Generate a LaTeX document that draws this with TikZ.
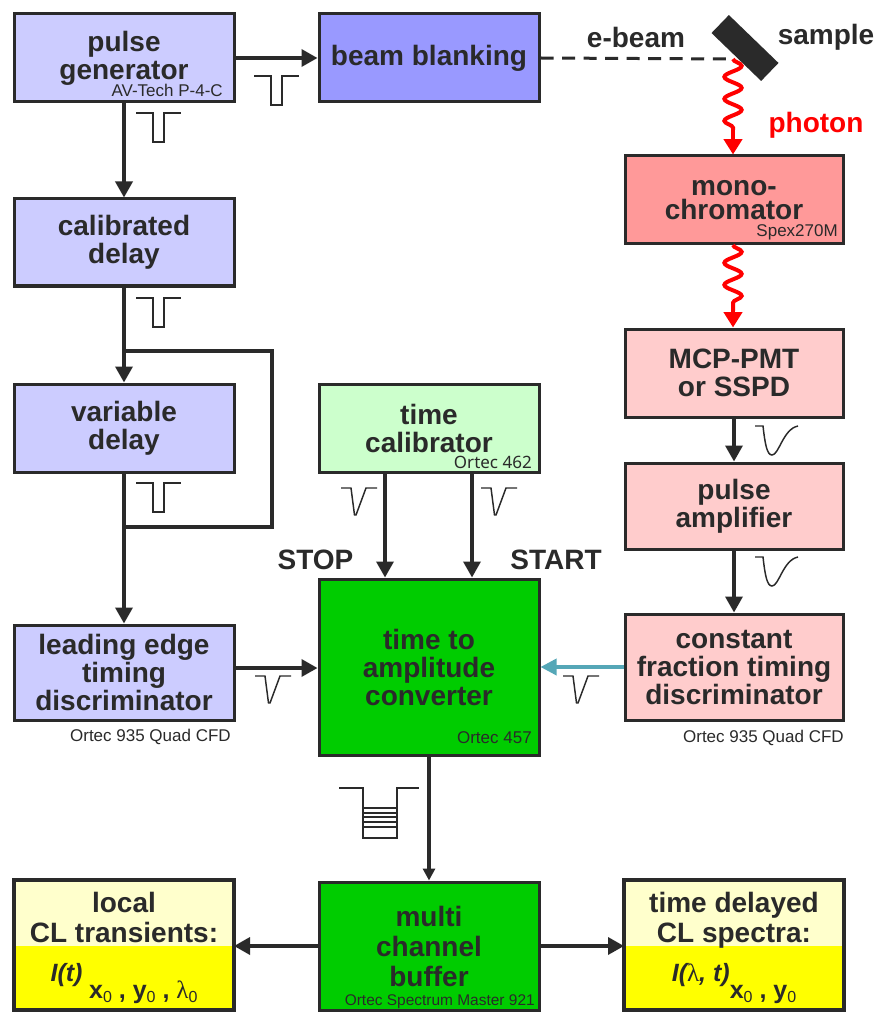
\documentclass[tikz,border=0pt]{standalone}
\usepackage{fontspec}
\setmainfont{Liberation Sans}
\newfontfamily\notosans{Noto Sans}
\newfontfamily\greekserif{Liberation Serif}
\usetikzlibrary{arrows.meta,decorations.pathmorphing,calc}
\definecolor{ink}{HTML}{2A2A2A}
\definecolor{lav}{HTML}{CCCCFF}
\definecolor{bbcol}{HTML}{9999FF}
\definecolor{monocol}{HTML}{FF9999}
\definecolor{pinkcol}{HTML}{FFCCCC}
\definecolor{tccol}{HTML}{CCFFCC}
\definecolor{tacgreen}{HTML}{00CC00}
\definecolor{lightyel}{HTML}{FFFFCC}
\definecolor{yel}{HTML}{FFFF00}
\definecolor{cyanarr}{HTML}{55A7B7}
\newcommand\mainfs{\fontsize{21pt}{21pt}\selectfont\bfseries}
\newcommand\monofs{\fontsize{21pt}{18.5pt}\selectfont\bfseries}
\newcommand\botfs{\fontsize{21pt}{22.5pt}\selectfont\bfseries}
\newcommand\smallfs{\fontsize{12.75pt}{14pt}\selectfont}
\newcommand\tinyfs{\fontsize{11.6pt}{13pt}\selectfont}
\newcommand\formfs{\fontsize{18.75pt}{20pt}\selectfont}
\newcommand\subz{\raisebox{-3pt}{\fontsize{12pt}{12pt}\selectfont\mdseries 0}}
\begin{document}
\begin{tikzpicture}[x=0.75pt,y=-0.75pt,
  box/.style={draw=ink, line width=2.25pt, text=ink, font=\mainfs, align=center,
    inner sep=0pt, minimum width=165pt},
  bbox/.style={draw=ink, line width=3pt, fill=lightyel, inner sep=0pt, outer sep=0pt,
    minimum width=165pt, minimum height=97.5pt},
  lab/.style={text=ink, font=\smallfs, inner sep=0pt, anchor=base east},
  free/.style={text=ink, font=\mainfs, inner sep=0pt},
  arr/.style={draw=ink, line width=2.6pt, -{Triangle[length=12pt,width=12.75pt]}},
  thinarr/.style={draw=ink, line width=2.3pt, -{Triangle[length=9pt,width=9pt]}},
  cyarr/.style={draw=cyanarr, line width=2.6pt, -{Triangle[length=12pt,width=12pt]}},
  plain/.style={draw=ink, line width=2.6pt},
  sym/.style={draw=ink, line width=1.1pt},
  wave/.style={draw=red, line width=3pt, decorate,
    decoration={snake, segment length=16.5pt, amplitude=6.5pt}},
  photarr/.style={draw=red, line width=3pt, -{Triangle[length=11.5pt,width=13.5pt]}},
  rectpulse/.pic={\draw[sym] (0,0) -- (17,0) -- (17,29) -- (28,29) -- (28,0) -- (45,0);},
  cfdpulse/.pic={\draw[sym] (0,0) -- (10,0) -- (13.5,27) -- (15,27) -- (25,0) -- (36,0);},
  pmtpulse/.pic={\draw[sym] (0,0) -- (8,0) .. controls (10,18) and (12,29) .. (17,29)
      .. controls (24,29) and (28,3) .. (43,0);},
  histo/.pic={\draw[sym] (0,0) -- (24,0) -- (24,50) -- (58,50) -- (58,0) -- (80,0);
      \foreach \yy in {20,25,29,34,39} {\draw[sym] (24,\yy) -- (58,\yy);}}
]
\useasboundingbox (0,0) rectangle (882,1012);
\fill[white] (0,0) rectangle (882,1012);

% ---- left column ----
\node[box, fill=lav, minimum height=66pt] (pg) at (124,58) {pulse\\generator};
\node[lab] (pglab) at (223,97) {AV-Tech P-4-C};
\node[box, fill=bbcol, minimum height=66pt] (bb) at (429,58) {beam blanking};
\node[box, fill=lav, minimum height=65.25pt] (cd) at (124,242.5) {calibrated\\delay};
\node[box, fill=lav, minimum height=66pt] (vd) at (124,428) {variable\\delay};
\node[box, fill=tccol, minimum height=66pt] (tc) at (429,428) {time\\calibrator};
\node[lab, font=\notosans\smallfs] (tclab) at (532,468) {Ortec 462};
\node[box, fill=lav, minimum height=71.25pt] (le) at (124,672.5) {leading edge\\timing\\discriminator};
\node[lab] (lelab) at (231,741) {Ortec 935 Quad CFD};
\node[box, fill=tacgreen, minimum height=132pt] (tac) at (429,667) {time to\\amplitude\\converter};
\node[lab] (taclab) at (532,743) {Ortec 457};

% ---- right column ----
\node[box, fill=monocol, minimum width=163.5pt, minimum height=66pt, font=\monofs] (mono) at (734,200) {mono-\\chromator};
\node[lab] (monolab) at (838,237) {Spex270M};
\node[box, fill=pinkcol, minimum width=163.5pt, minimum height=66pt] (mcp) at (734,373) {MCP-PMT\\or SSPD};
\node[box, fill=pinkcol, minimum width=163.5pt, minimum height=64.5pt] (pa) at (734,506) {pulse\\amplifier};
\node[box, fill=pinkcol, minimum width=163.5pt, minimum height=79.5pt] (cfd) at (734,667) {constant\\fraction timing\\discriminator};
\node[lab] (cfdlab) at (844,742) {Ortec 935 Quad CFD};

% ---- sample, e-beam, photon ----
\node[fill=ink, minimum width=51.75pt, minimum height=18.75pt, inner sep=0pt, rotate=-44] (smp) at (745,48) {};
\node[free] (ebeam) at (636,37) {e-beam};
\node[free] (samplelab) at (826,37) {sample};
\node[free, text=red] (photon) at (816,125) {photon};
\coordinate (src) at (733,59);
\coordinate (w1) at (733,130);
\coordinate (m1) at (733,245);
\coordinate (w2) at (733,311);
\draw[draw=ink, line width=2.25pt, dash pattern=on 9.75pt off 6.4pt] (bb.east) -- (src);
\draw[wave] (src) -- (w1);
\draw[photarr] (w1) -- (mono.north -| w1);
\draw[wave] (m1) -- (w2);
\draw[photarr] (w2) -- (mcp.north -| w2);

% ---- connectors ----
\draw[arr] (pg.east) -- (bb.west);
\draw[arr] (pg.south) -- (cd.north);
\draw[arr] (cd.south) -- (vd.north);
\draw[arr] (vd.south) -- (le.north);
\coordinate (j1) at (124,351);
\coordinate (c1) at (272,351);
\coordinate (c2) at (272,527);
\coordinate (j2) at (124,527);
\draw[plain, line join=miter] (j1) -- (c1) -- (c2) -- (j2);
\coordinate (ya) at (0,668);
\draw[arr] (le.east |- ya) -- (tac.west |- ya);
\draw[cyarr] (cfd.west) -- (tac.east |- cfd.west);
\coordinate (sx) at (385,0);
\coordinate (stx) at (472,0);
\draw[arr] (tc.south -| sx) -- (tac.north -| sx);
\draw[arr] (tc.south -| stx) -- (tac.north -| stx);
\draw[arr] (mcp.south) -- (pa.north);
\draw[arr] (pa.south) -- (cfd.north);
\node[free] (stop) at (315.5,560) {STOP};
\node[free] (start) at (556,560) {START};

% ---- pulse symbols ----
\pic at (254,76) {rectpulse};
\pic at (136,113) {rectpulse};
\pic at (136,298) {rectpulse};
\pic at (136,483) {rectpulse};
\pic at (341,488) {cfdpulse};
\pic at (481,488) {cfdpulse};
\pic at (255,676) {cfdpulse};
\pic at (563,676) {cfdpulse};
\pic at (755,426) {pmtpulse};
\pic at (755,557) {pmtpulse};
\pic at (339,788) {histo};

% ---- bottom row ----
\node[box, fill=tacgreen, minimum height=96pt, font=\botfs] (mcb) at (429,946) {multi\\channel\\buffer};
\node[lab, font=\tinyfs] (mcblab) at (535,1005) {Ortec Spectrum Master 921};
\draw[thinarr] (tac.south) -- (mcb.north);

\node[bbox] (lb) at (124,945) {};
\fill[yel] (15.5,946) rectangle (232.5,1008.5);
\draw[ink, line width=3pt] (lb.south west) rectangle (lb.north east);
\node[bbox] (rb) at (734,945) {};
\fill[yel] (625.5,946) rectangle (842.5,1008.5);
\draw[ink, line width=3pt] (rb.south west) rectangle (rb.north east);

\coordinate (yb) at (0,946);
\draw[arr] (mcb.west |- yb) -- (lb.east |- yb);
\draw[arr] (mcb.east |- yb) -- (rb.west |- yb);

\node[free, font=\botfs, align=center, anchor=north] (lbt) at (124,892) {local\\CL transients:};
\node[free, font=\botfs, align=center, anchor=north] (rbt) at (734,892) {time delayed\\CL spectra:};
\node[free, font=\formfs, anchor=base] (lbf) at (124,998)
  {\raisebox{12.75pt}{\bfseries\itshape I(t)}\hspace{5pt}\textbf{x}\subz\ \textbf{,}\ \textbf{y}\subz\ \textbf{,}\ {\greekserif λ}\subz};
\node[free, font=\formfs, anchor=base] (rbf) at (734,998)
  {\raisebox{12.75pt}{\bfseries\itshape I({\greekserif\mdseries\upshape λ}, t)}\textbf{x}\subz\ \textbf{,}\ \textbf{y}\subz};
\end{tikzpicture}
\end{document}
